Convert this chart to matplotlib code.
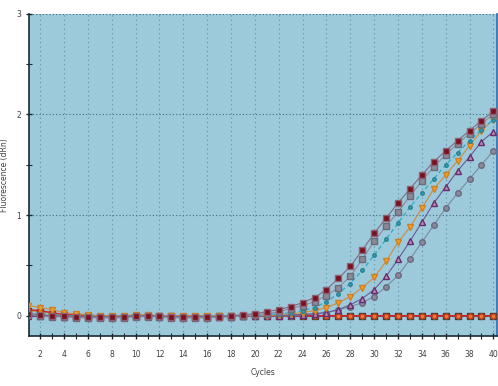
import matplotlib
matplotlib.use("Agg")
import matplotlib.pyplot as plt
from matplotlib.ticker import MultipleLocator

cycles = list(range(1, 41))

# amplified series (dRn)
red_sq = [0.02, 0.01, 0.00, 0.00, -0.01, -0.01, -0.01, -0.01, -0.01, 0.00,
          0.00, 0.00, -0.01, -0.01, -0.01, -0.01, -0.01, 0.00, 0.01, 0.02,
          0.04, 0.06, 0.09, 0.13, 0.18, 0.26, 0.37, 0.49, 0.65, 0.82,
          0.97, 1.12, 1.26, 1.40, 1.53, 1.64, 1.74, 1.84, 1.94, 2.03]
grey_sq = [0.01, 0.00, -0.01, -0.01, -0.02, -0.02, -0.02, -0.02, -0.02, -0.01,
           -0.01, -0.01, -0.02, -0.02, -0.02, -0.02, -0.01, -0.01, 0.00, 0.01,
           0.02, 0.04, 0.07, 0.10, 0.14, 0.20, 0.28, 0.39, 0.56, 0.74,
           0.89, 1.03, 1.19, 1.34, 1.48, 1.60, 1.71, 1.81, 1.91, 2.00]
cyan = [0.03, 0.02, 0.01, 0.00, 0.00, 0.00, -0.01, -0.01, 0.00, 0.00,
        0.00, 0.00, 0.00, -0.01, -0.01, 0.00, 0.00, 0.00, 0.00, 0.00,
        0.01, 0.02, 0.03, 0.05, 0.08, 0.14, 0.22, 0.32, 0.45, 0.60,
        0.76, 0.92, 1.08, 1.22, 1.36, 1.50, 1.62, 1.74, 1.85, 1.95]
orange_tri = [0.10, 0.08, 0.06, 0.03, 0.02, 0.01, 0.00, 0.00, 0.00, 0.01,
              0.01, 0.00, 0.00, 0.00, 0.00, 0.00, 0.00, 0.00, 0.00, 0.00,
              0.00, 0.01, 0.02, 0.03, 0.05, 0.08, 0.13, 0.19, 0.28, 0.38,
              0.54, 0.73, 0.88, 1.07, 1.26, 1.40, 1.54, 1.69, 1.84, 1.95]
purple_tri = [0.00, 0.00, 0.00, -0.01, -0.01, -0.01, -0.01, -0.01, -0.01, 0.00,
              0.00, -0.01, -0.01, -0.01, -0.01, -0.01, -0.01, -0.01, 0.00, 0.00,
              0.00, 0.00, 0.01, 0.01, 0.02, 0.03, 0.06, 0.11, 0.17, 0.26,
              0.39, 0.56, 0.74, 0.93, 1.12, 1.28, 1.44, 1.58, 1.73, 1.83]
grey_circ = [0.01, 0.00, 0.00, -0.01, -0.01, -0.01, -0.01, -0.01, 0.00, 0.00,
             0.00, 0.00, 0.00, -0.01, -0.01, -0.01, 0.00, 0.00, 0.00, 0.00,
             0.00, 0.00, 0.00, 0.01, 0.02, 0.03, 0.06, 0.09, 0.13, 0.19,
             0.29, 0.40, 0.56, 0.73, 0.90, 1.07, 1.22, 1.36, 1.50, 1.64]
# flat (no amplification) series
ntc_red = [0.06, 0.05, 0.03, 0.01, 0.01, 0.00, 0.00, 0.00, 0.00, 0.00,
           0.00, 0.00, 0.00, 0.00, 0.00, 0.00, 0.00, 0.00, 0.00, 0.00,
           0.00, 0.00, 0.00, 0.00, 0.00, 0.00, 0.00, 0.00, 0.00, 0.00,
           0.00, 0.00, 0.00, 0.00, 0.00, 0.00, 0.00, 0.00, 0.00, 0.00]
ntc_green = [0.05, 0.04, 0.02, 0.01, 0.00, 0.00, -0.01, -0.01, -0.01, 0.00,
             0.00, 0.00, 0.00, -0.01, -0.01, -0.01, 0.00, 0.00, 0.00, 0.00,
             0.00, 0.00, 0.00, 0.00, 0.00, 0.00, 0.00, 0.00, 0.00, 0.00,
             0.00, 0.00, 0.00, 0.00, 0.00, 0.00, 0.00, 0.00, 0.00, 0.00]
ntc_purple = [0.00, 0.00, 0.00, 0.00, 0.00, 0.00, 0.00, 0.00, 0.00, 0.00,
              0.00, 0.00, 0.00, 0.00, 0.00, 0.00, 0.00, 0.00, 0.00, 0.00,
              0.00, 0.00, 0.00, 0.00, 0.00, 0.00, 0.00, 0.00, 0.00, 0.00,
              0.00, 0.00, 0.00, 0.00, 0.00, 0.00, 0.00, 0.00, 0.00, 0.00]

fig = plt.figure(figsize=(4.98, 3.86), dpi=100)
ax = fig.add_axes([0.058, 0.130, 0.940, 0.834])
ax.set_facecolor("#9dcadb")

ax.set_xlim(1.05, 40.3)
ax.set_ylim(-0.2, 3.0)

ax.xaxis.set_major_locator(MultipleLocator(2))
ax.xaxis.set_minor_locator(MultipleLocator(1))
ax.yaxis.set_major_locator(MultipleLocator(1))
ax.yaxis.set_minor_locator(MultipleLocator(0.5))

ax.grid(True, which="major", axis="x", color="#5f8e9c", linestyle=(0, (1, 3)), linewidth=0.8)
ax.grid(True, which="major", axis="y", color="#3f6e7c", linestyle=(0, (1, 2)), linewidth=0.8)

# flat series
ax.plot(cycles, ntc_purple, color="#6a1f6e", lw=1.2, marker="o", ms=4,
        mfc="#7a2a80", mec="#4a1050", zorder=3)
ax.plot(cycles, ntc_green, color="#c89030", lw=0.8, marker="s", ms=5,
        mfc="#8a8a40", mec="#4a3a30", zorder=3)
ax.plot(cycles, ntc_red, color="#d0202a", lw=1.0, marker="o", ms=3.5,
        mfc="#f07830", mec="#c04020", zorder=4)

# amplified series
ax.plot(cycles, grey_circ, color="#7a8aa0", lw=0.8, marker="o", ms=4,
        mfc="#8a8a9a", mec="#6a6a80", zorder=5)
ax.plot(cycles, purple_tri, color="#6a5a9a", lw=0.8, marker="^", ms=5,
        mfc="#b090b0", mec="#6a2a6a", zorder=5)
ax.plot(cycles, orange_tri, color="#d08a40", lw=0.8, marker="v", ms=5,
        mfc="#f0a030", mec="#d08020", zorder=5)
ax.plot(cycles, cyan, color="#30b0c8", lw=1.0, ls=(0, (3, 2)), marker="o", ms=2.5,
        mfc="#3aa0b0", mec="#2a8090", zorder=5)
ax.plot(cycles, grey_sq, color="#8a8aa0", lw=0.8, marker="s", ms=4,
        mfc="#8a8a98", mec="#6a6a7a", zorder=6)
ax.plot(cycles, red_sq, color="#806a80", lw=0.8, marker="s", ms=4.5,
        mfc="#7a1020", mec="#906070", zorder=6)

for s in ["left", "bottom"]:
    ax.spines[s].set_color("#1a2a30")
    ax.spines[s].set_linewidth(1.2)
ax.spines["right"].set_color("#2a6ab0")
ax.spines["right"].set_linewidth(1.2)
ax.spines["top"].set_visible(False)

ax.tick_params(axis="both", which="both", direction="inout", colors="#1a2a30",
               labelsize=5.5, labelcolor="#404040")
ax.tick_params(axis="both", which="major", length=5, width=1)
ax.tick_params(axis="both", which="minor", length=4, width=0.8)
ax.tick_params(axis="y", pad=3)
ax.tick_params(axis="x", pad=8)

ax.set_xlabel("Cycles", fontsize=5.5, color="#404040", labelpad=6)
ax.set_ylabel("Fluorescence (dRn)", fontsize=5.5, color="#404040", labelpad=5)

fig.savefig("out.png", dpi=100)
